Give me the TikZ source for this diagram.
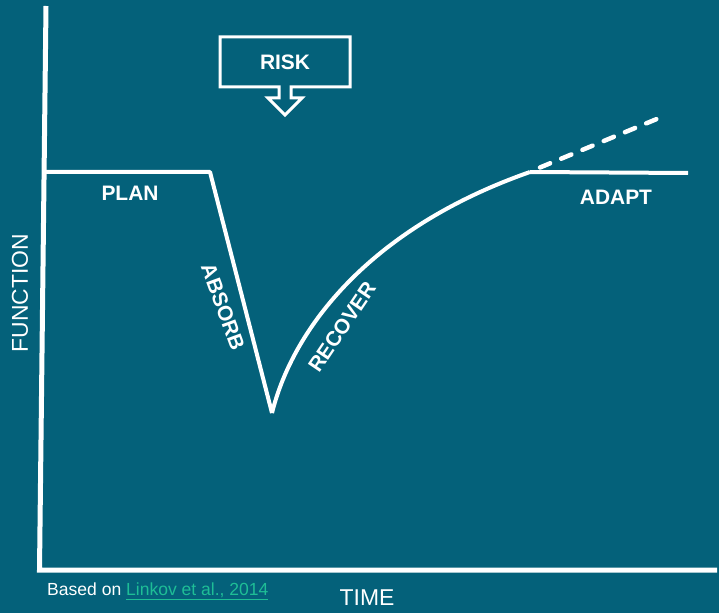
\documentclass[tikz,border=0pt]{standalone}
\usepackage{fontspec}
\setmainfont{Liberation Sans}
\definecolor{bg}{RGB}{4,97,122}
\definecolor{linkc}{RGB}{30,190,150}
\begin{document}
\begin{tikzpicture}[x=1bp,y=-1bp,
  axis/.style={white,line width=5bp,line join=miter},
  curveline/.style={white,line width=4bp,line join=round},
  dashline/.style={white,line width=4.5bp,line cap=round,dash pattern=on 11bp off 12bp},
  lbl/.style={white,font=\fontsize{21}{25}\selectfont\bfseries,inner sep=0pt},
  axlbl/.style={white,font=\fontsize{23}{27}\selectfont,inner sep=0pt}]
\fill[bg] (0,0) rectangle (719,613);
\useasboundingbox (0,0) rectangle (719,613);
% axes
\coordinate (ytop) at (46,6);
\coordinate (orig) at (39.5,570);
\coordinate (xend) at (717,570);
\draw[axis] (ytop) -- (orig) -- (xend);
% resilience curve
\coordinate (p0) at (46,172);
\coordinate (p1) at (210,172);
\coordinate (v) at (272,413);
\coordinate (j) at (530,172);
\coordinate (aend) at (688,173);
\coordinate (dend) at (664,116);
\draw[curveline] (p0) -- (p1) -- (v);
\draw[curveline] (v) .. controls (293,328) and (370,228) .. (j);
\draw[curveline] (j) -- (aend);
\draw[dashline] (j) ++(10,-4.5) -- (dend);
% risk callout
\draw[white,line width=3bp,line join=miter]
  (220,37) -- (350,37) -- (350,87) -- (291,87) -- (291,98) -- (302,98) -- (285,115)
  -- (268,98) -- (279,98) -- (279,87) -- (220,87) -- cycle;
\node[lbl] (risk) at (285,62.5) {RISK};
% labels
\node[lbl] (plan) at (130,193) {PLAN};
\node[lbl] (adapt) at (616,197) {ADAPT};
\node[lbl,rotate=-70] (absorb) at (223,307) {ABSORB};
\node[lbl,rotate=56] (recover) at (342,327) {RECOVER};
\node[axlbl,rotate=90] (function) at (20,293) {FUNCTION};
\node[axlbl] (time) at (367,598) {TIME};
\node[anchor=west,inner sep=0pt,font=\fontsize{17.6}{21}\selectfont] (src) at (47,591)
  {\textcolor{white}{Based on }\textcolor{linkc}{\underline{Linkov et al., 2014}}};
\end{tikzpicture}
\end{document}
